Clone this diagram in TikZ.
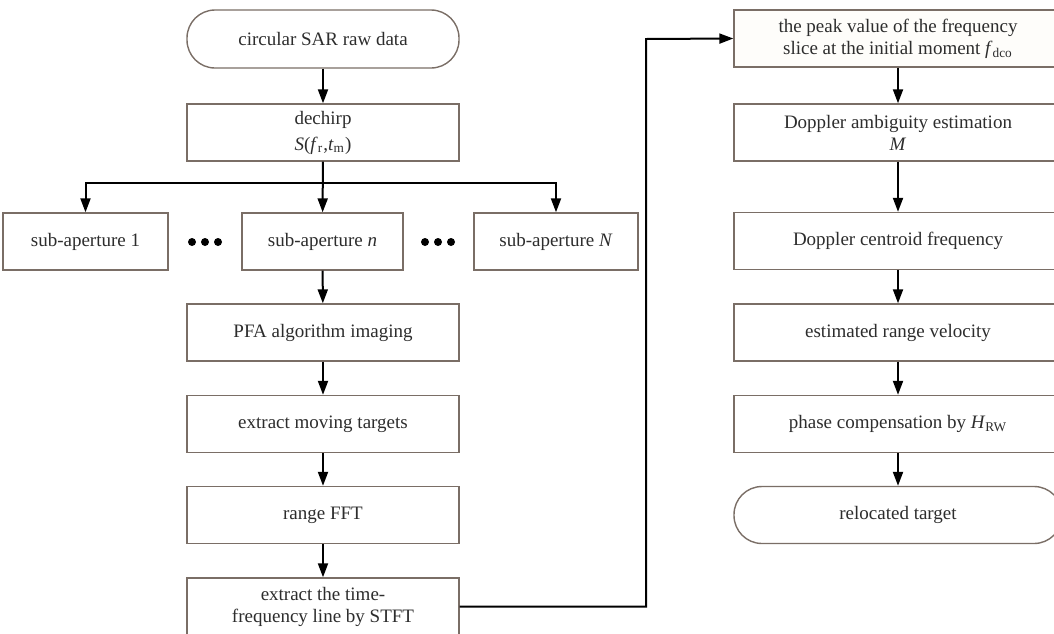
\documentclass[tikz,border=0pt]{standalone}
\usepackage{fontspec}
\setmainfont{Liberation Serif}
\usetikzlibrary{arrows.meta}
\definecolor{bordercol}{RGB}{122,110,102}
\definecolor{textcol}{RGB}{45,45,45}
\definecolor{creamfill}{RGB}{254,253,250}
\newcommand{\fsz}{\fontsize{9.5pt}{11pt}\selectfont}
\begin{document}
\begin{tikzpicture}[x=0.5pt,y=-0.5pt,
  box/.style={draw=bordercol, line width=0.7pt, fill=white, minimum height=28.5pt,
    inner sep=0pt, align=center, font=\fsz, text=textcol},
  wide/.style={box, minimum width=136pt},
  rwide/.style={box, minimum width=164pt},
  term/.style={rounded corners=14pt},
  arr/.style={line width=1pt, -{Triangle[width=5pt,length=7pt]}},
  dotc/.style={circle, fill=black, inner sep=0pt, minimum size=4pt}]
\useasboundingbox (0,0) rectangle (1054,633);
% left column
\node[wide, term, minimum height=29pt] (start) at (323,39) {circular SAR raw data};
\node[wide] (dechirp) at (323,132.5) {dechirp\\[2pt]\textit{S}(\textit{f}\textsubscript{r},\textit{t}\textsubscript{m})};
\node[box, minimum width=82.5pt] (sub1) at (85.5,241.5) {sub-aperture 1};
\node[box, minimum width=80.5pt] (subn) at (322.5,241.5) {sub-aperture \textit{n}};
\node[box, minimum width=82pt] (subN) at (556,241.5) {sub-aperture \textit{N}};
\node[dotc] (d1a) at (192,242) {};
\node[dotc] (d1b) at (205,242) {};
\node[dotc] (d1c) at (218,242) {};
\node[dotc] (d2a) at (425,242) {};
\node[dotc] (d2b) at (438,242) {};
\node[dotc] (d2c) at (451,242) {};
\node[wide] (pfa) at (323,332.5) {PFA algorithm imaging};
\node[wide] (moving) at (323,424) {extract moving targets};
\node[wide] (fft) at (323,515) {range FFT};
\node[wide] (stft) at (323,606.5) {extract the time-\\frequency line by STFT};
% right column
\node[rwide, fill=creamfill] (peak) at (898,38.5) {the peak value of the frequency\\slice at the initial moment \textit{f}\textsubscript{dco}};
\node[rwide] (amb) at (898,132.5) {Doppler ambiguity estimation\\\textit{M}};
\node[rwide] (centroid) at (898,241) {Doppler centroid frequency};
\node[rwide] (velocity) at (898,332.5) {estimated range velocity};
\node[rwide] (phase) at (898,424) {phase compensation by \textit{H}\textsubscript{RW}};
\node[rwide, term] (reloc) at (898,515) {relocated target};
% connectors
\coordinate (split) at (323,183);
\coordinate (turn) at (646,39);
\draw[arr] (start) -- (dechirp);
\draw[arr] (dechirp) -- (subn);
\draw[arr] (split) -| (sub1.north);
\draw[arr] (split) -| (subN.north);
\draw[arr] (subn) -- (pfa);
\draw[arr] (pfa) -- (moving);
\draw[arr] (moving) -- (fft);
\draw[arr] (fft) -- (stft);
\draw[arr] (stft.east) -| (turn) -- (peak.west);
\draw[arr] (peak) -- (amb);
\draw[arr] (amb) -- (centroid);
\draw[arr] (centroid) -- (velocity);
\draw[arr] (velocity) -- (phase);
\draw[arr] (phase) -- (reloc);
\end{tikzpicture}
\end{document}
